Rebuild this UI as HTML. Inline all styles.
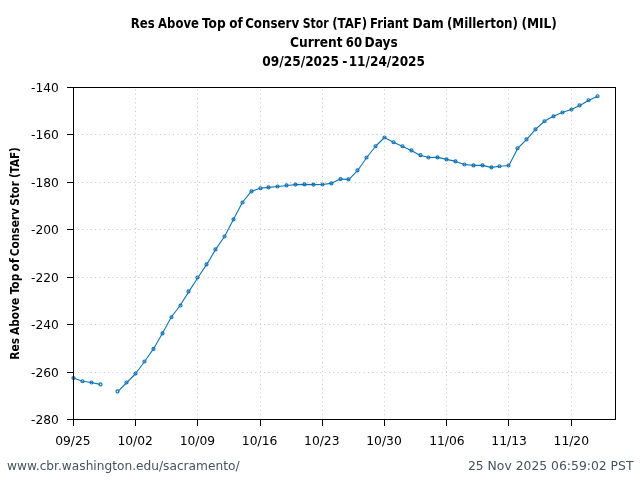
<!DOCTYPE html>
<html lang="en"><head><meta charset="utf-8"><title>Res Above Top of Conserv Stor (TAF) Friant Dam (Millerton) (MIL)</title>
<style>
html,body{margin:0;padding:0;background:#fff;}
body{width:640px;height:480px;overflow:hidden;}
svg{display:block;}
.t{font-family:"DejaVu Sans Condensed","DejaVu Sans","Liberation Sans",sans-serif;font-weight:bold;fill:#000;}
.k{font-family:"DejaVu Sans","Liberation Sans",sans-serif;font-size:12px;fill:#000;}
.f{font-family:"DejaVu Sans","Liberation Sans",sans-serif;font-size:12px;fill:#44535c;}
</style></head><body>
<svg width="640" height="480" viewBox="0 0 640 480">
<rect width="640" height="480" fill="#fff"/>
<text class="t" y="27.5" font-size="13.7"><tspan x="130.78" textLength="23.99" lengthAdjust="spacingAndGlyphs">Res</tspan> <tspan x="158.12" textLength="40.78" lengthAdjust="spacingAndGlyphs">Above</tspan> <tspan x="202.11" textLength="23.61" lengthAdjust="spacingAndGlyphs">Top</tspan> <tspan x="229.13" textLength="13.52" lengthAdjust="spacingAndGlyphs">of</tspan> <tspan x="245.17" textLength="54.06" lengthAdjust="spacingAndGlyphs">Conserv</tspan> <tspan x="302.72" textLength="25.90" lengthAdjust="spacingAndGlyphs">Stor</tspan> <tspan x="332.24" textLength="35.00" lengthAdjust="spacingAndGlyphs">(TAF)</tspan> <tspan x="370.11" textLength="38.56" lengthAdjust="spacingAndGlyphs">Friant</tspan> <tspan x="412.55" textLength="31.11" lengthAdjust="spacingAndGlyphs">Dam</tspan> <tspan x="446.90" textLength="71.12" lengthAdjust="spacingAndGlyphs">(Millerton)</tspan> <tspan x="521.44" textLength="35.47" lengthAdjust="spacingAndGlyphs">(MIL)</tspan></text>
<text class="t" y="46.5" font-size="13.7"><tspan x="289.92" textLength="52.73" lengthAdjust="spacingAndGlyphs">Current</tspan> <tspan x="345.75" textLength="16.26" lengthAdjust="spacingAndGlyphs">60</tspan> <tspan x="364.62" textLength="33.20" lengthAdjust="spacingAndGlyphs">Days</tspan></text>
<text class="t" y="65.6" font-size="13.7"><tspan x="262.33" textLength="76.71" lengthAdjust="spacingAndGlyphs">09/25/2025</tspan> <tspan x="342.18" textLength="5.12" lengthAdjust="spacingAndGlyphs">-</tspan> <tspan x="348.70" textLength="76.28" lengthAdjust="spacingAndGlyphs">11/24/2025</tspan></text>
<g transform="translate(18.8,358.75) rotate(-90)">
<text class="t" y="0" font-size="12"><tspan x="-0.97" textLength="21.87" lengthAdjust="spacingAndGlyphs">Res</tspan> <tspan x="23.78" textLength="37.14" lengthAdjust="spacingAndGlyphs">Above</tspan> <tspan x="64.48" textLength="20.49" lengthAdjust="spacingAndGlyphs">Top</tspan> <tspan x="87.37" textLength="13.16" lengthAdjust="spacingAndGlyphs">of</tspan> <tspan x="102.43" textLength="48.35" lengthAdjust="spacingAndGlyphs">Conserv</tspan> <tspan x="153.04" textLength="24.46" lengthAdjust="spacingAndGlyphs">Stor</tspan> <tspan x="180.80" textLength="30.78" lengthAdjust="spacingAndGlyphs">(TAF)</tspan></text>
</g>
<g stroke="#c4c4c4" stroke-width="1" stroke-dasharray="1 3.33" fill="none">
<path d="M73.5 134.5H615.5"/><path d="M73.5 182.5H615.5"/><path d="M73.5 229.5H615.5"/><path d="M73.5 277.5H615.5"/><path d="M73.5 324.5H615.5"/><path d="M73.5 372.5H615.5"/><path d="M135.5 419.5V87.5"/><path d="M197.5 419.5V87.5"/><path d="M260.5 419.5V87.5"/><path d="M322.5 419.5V87.5"/><path d="M384.5 419.5V87.5"/><path d="M446.5 419.5V87.5"/><path d="M508.5 419.5V87.5"/><path d="M571.5 419.5V87.5"/></g>
<text class="k" x="58.85" y="423.9" text-anchor="end" textLength="27.8" lengthAdjust="spacingAndGlyphs">-280</text><text class="k" x="58.85" y="376.5" text-anchor="end" textLength="27.8" lengthAdjust="spacingAndGlyphs">-260</text><text class="k" x="58.85" y="329.0" text-anchor="end" textLength="27.8" lengthAdjust="spacingAndGlyphs">-240</text><text class="k" x="58.85" y="281.6" text-anchor="end" textLength="27.8" lengthAdjust="spacingAndGlyphs">-220</text><text class="k" x="58.85" y="234.2" text-anchor="end" textLength="27.8" lengthAdjust="spacingAndGlyphs">-200</text><text class="k" x="58.85" y="186.8" text-anchor="end" textLength="27.8" lengthAdjust="spacingAndGlyphs">-180</text><text class="k" x="58.85" y="139.3" text-anchor="end" textLength="27.8" lengthAdjust="spacingAndGlyphs">-160</text><text class="k" x="58.85" y="91.9" text-anchor="end" textLength="27.8" lengthAdjust="spacingAndGlyphs">-140</text>
<text class="k" x="72.9" y="445" text-anchor="middle" textLength="35.5" lengthAdjust="spacingAndGlyphs">09/25</text><text class="k" x="135.2" y="445" text-anchor="middle" textLength="35.5" lengthAdjust="spacingAndGlyphs">10/02</text><text class="k" x="197.4" y="445" text-anchor="middle" textLength="35.5" lengthAdjust="spacingAndGlyphs">10/09</text><text class="k" x="259.6" y="445" text-anchor="middle" textLength="35.5" lengthAdjust="spacingAndGlyphs">10/16</text><text class="k" x="321.8" y="445" text-anchor="middle" textLength="35.5" lengthAdjust="spacingAndGlyphs">10/23</text><text class="k" x="384.0" y="445" text-anchor="middle" textLength="35.5" lengthAdjust="spacingAndGlyphs">10/30</text><text class="k" x="446.9" y="445" text-anchor="middle" textLength="35.5" lengthAdjust="spacingAndGlyphs">11/06</text><text class="k" x="509.1" y="445" text-anchor="middle" textLength="35.5" lengthAdjust="spacingAndGlyphs">11/13</text><text class="k" x="571.3" y="445" text-anchor="middle" textLength="35.5" lengthAdjust="spacingAndGlyphs">11/20</text>
<g stroke="#1274b4" stroke-width="1.1" fill="none" stroke-linejoin="round">
<polyline points="73.50,378.10 82.39,381.25 91.27,382.50 100.16,384.40"/>
<polyline points="117.93,391.40 126.81,382.50 135.70,373.50 144.58,361.50 153.47,348.90 162.35,333.40 171.24,317.25 180.12,305.50 189.01,291.40 197.89,277.50 206.78,264.40 215.66,249.40 224.55,236.50 233.43,219.40 242.32,202.50 251.20,191.40 260.09,188.25 268.98,187.40 277.86,186.50 286.75,185.45 295.63,184.60 304.52,184.40 313.40,184.60 322.29,184.50 331.17,183.40 340.06,179.10 348.94,179.40 357.83,170.30 366.71,157.50 375.60,146.25 384.48,137.50 393.37,142.25 402.25,146.25 411.14,150.40 420.02,155.20 428.91,157.50 437.80,157.40 446.68,159.40 455.57,161.40 464.45,164.50 473.34,165.40 482.22,165.40 491.11,167.40 499.99,166.25 508.88,165.50 517.76,148.25 526.65,139.40 535.53,129.45 544.42,121.25 553.30,116.35 562.19,112.50 571.07,109.50 579.96,105.40 588.84,100.25 597.73,96.25"/>
</g>
<g stroke="#1274b4" stroke-width="1.2" fill="none">
<circle cx="73.5" cy="378.10" r="1.5"/><circle cx="82.5" cy="381.25" r="1.5"/><circle cx="91.5" cy="382.50" r="1.5"/><circle cx="100.5" cy="384.40" r="1.5"/><circle cx="117.5" cy="391.40" r="1.5"/><circle cx="126.5" cy="382.50" r="1.5"/><circle cx="135.5" cy="373.50" r="1.5"/><circle cx="144.5" cy="361.50" r="1.5"/><circle cx="153.5" cy="348.90" r="1.5"/><circle cx="162.5" cy="333.40" r="1.5"/><circle cx="171.5" cy="317.25" r="1.5"/><circle cx="180.5" cy="305.50" r="1.5"/><circle cx="188.5" cy="291.40" r="1.5"/><circle cx="197.5" cy="277.50" r="1.5"/><circle cx="206.5" cy="264.40" r="1.5"/><circle cx="215.5" cy="249.40" r="1.5"/><circle cx="224.5" cy="236.50" r="1.5"/><circle cx="233.5" cy="219.40" r="1.5"/><circle cx="242.5" cy="202.50" r="1.5"/><circle cx="251.5" cy="191.40" r="1.5"/><circle cx="260.5" cy="188.25" r="1.5"/><circle cx="268.5" cy="187.40" r="1.5"/><circle cx="277.5" cy="186.50" r="1.5"/><circle cx="286.5" cy="185.45" r="1.5"/><circle cx="295.5" cy="184.60" r="1.5"/><circle cx="304.5" cy="184.40" r="1.5"/><circle cx="313.5" cy="184.60" r="1.5"/><circle cx="322.5" cy="184.50" r="1.5"/><circle cx="331.5" cy="183.40" r="1.5"/><circle cx="340.5" cy="179.10" r="1.5"/><circle cx="348.5" cy="179.40" r="1.5"/><circle cx="357.5" cy="170.30" r="1.5"/><circle cx="366.5" cy="157.50" r="1.5"/><circle cx="375.5" cy="146.25" r="1.5"/><circle cx="384.5" cy="137.50" r="1.5"/><circle cx="393.5" cy="142.25" r="1.5"/><circle cx="402.5" cy="146.25" r="1.5"/><circle cx="411.5" cy="150.40" r="1.5"/><circle cx="420.5" cy="155.20" r="1.5"/><circle cx="428.5" cy="157.50" r="1.5"/><circle cx="437.5" cy="157.40" r="1.5"/><circle cx="446.5" cy="159.40" r="1.5"/><circle cx="455.5" cy="161.40" r="1.5"/><circle cx="464.5" cy="164.50" r="1.5"/><circle cx="473.5" cy="165.40" r="1.5"/><circle cx="482.5" cy="165.40" r="1.5"/><circle cx="491.5" cy="167.40" r="1.5"/><circle cx="499.5" cy="166.25" r="1.5"/><circle cx="508.5" cy="165.50" r="1.5"/><circle cx="517.5" cy="148.25" r="1.5"/><circle cx="526.5" cy="139.40" r="1.5"/><circle cx="535.5" cy="129.45" r="1.5"/><circle cx="544.5" cy="121.25" r="1.5"/><circle cx="553.5" cy="116.35" r="1.5"/><circle cx="562.5" cy="112.50" r="1.5"/><circle cx="571.5" cy="109.50" r="1.5"/><circle cx="579.5" cy="105.40" r="1.5"/><circle cx="588.5" cy="100.25" r="1.5"/><circle cx="597.5" cy="96.25" r="1.5"/>
</g>
<g stroke="#000" stroke-width="1" fill="none" shape-rendering="crispEdges">
<rect x="73.5" y="87.5" width="542" height="332"/>
<path d="M67 419.5H73"/><path d="M67 372.5H73"/><path d="M67 324.5H73"/><path d="M67 277.5H73"/><path d="M67 229.5H73"/><path d="M67 182.5H73"/><path d="M67 134.5H73"/><path d="M67 87.5H73"/><path d="M73.5 419V426"/><path d="M135.5 419V426"/><path d="M197.5 419V426"/><path d="M260.5 419V426"/><path d="M322.5 419V426"/><path d="M384.5 419V426"/><path d="M446.5 419V426"/><path d="M508.5 419V426"/><path d="M571.5 419V426"/></g>
<text class="f" x="7" y="469.7" textLength="232.5" lengthAdjust="spacingAndGlyphs">www.cbr.washington.edu/sacramento/</text>
<text class="f" x="633.5" y="469.7" text-anchor="end" textLength="165.6" lengthAdjust="spacingAndGlyphs">25 Nov 2025 06:59:02 PST</text>
</svg>
</body></html>
